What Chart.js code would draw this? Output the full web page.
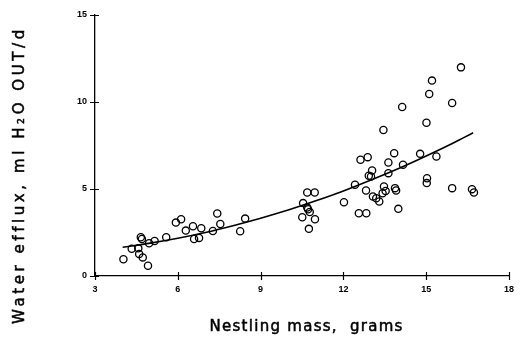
<!DOCTYPE html>
<html>
<head>
<meta charset="utf-8">
<script src="https://cdn.jsdelivr.net/npm/chart.js@4"></script>
<style>
  html, body { margin: 0; padding: 0; background: #fff; }
  #wrap { width: 522px; height: 337px; }
</style>
</head>
<body>
<div id="wrap"><canvas id="grafico"></canvas></div>
<script>
// dados
const nestlingMass = [4.03, 4.33, 4.57, 4.60, 4.73, 4.92, 4.66, 4.70, 4.96, 5.16, 5.58, 5.93, 6.12, 6.29, 6.55, 6.59, 6.77, 6.85, 7.27, 7.43, 7.54, 8.26, 8.44,
  10.69, 10.96, 10.54, 10.72, 10.78, 10.51, 10.97, 10.75, 10.69,
  12.62, 12.88, 13.84, 13.04, 12.92, 13.00, 13.63, 13.63, 14.16, 14.78, 12.42, 12.82, 12.02, 13.07, 13.19, 13.30, 13.47, 13.53, 13.42, 13.87, 13.91, 13.99, 12.56, 12.83,
  15.37, 15.03, 15.02, 15.94, 16.66, 16.73, 16.26, 15.21, 15.11, 14.13, 15.94, 15.01, 13.45];
const waterEfflux = [0.96, 1.57, 1.59, 1.27, 1.07, 0.59, 2.23, 2.13, 1.88, 2.01, 2.23, 3.07, 3.26, 2.61, 2.86, 2.13, 2.19, 2.74, 2.59, 3.59, 2.99, 2.57, 3.30,
  4.80, 4.80, 4.19, 3.84, 3.68, 3.38, 3.26, 2.71, 3.93,
  6.68, 6.83, 7.06, 6.06, 5.76, 5.72, 6.52, 5.91, 6.39, 7.02, 5.24, 4.91, 4.24, 4.57, 4.47, 4.28, 5.14, 4.89, 4.76, 5.05, 4.91, 3.86, 3.61, 3.61,
  6.87, 5.62, 5.34, 5.05, 4.99, 4.80, 11.99, 11.23, 10.46, 9.71, 9.94, 8.81, 8.39];

// curva ajustada
const curveMass = [4, 5, 6, 7, 8, 9, 10, 11, 12, 13, 14, 15, 16, 16.7];
const curveEfflux = [1.65, 1.89, 2.17, 2.50, 2.89, 3.32, 3.79, 4.32, 4.89, 5.52, 6.18, 6.90, 7.66, 8.23];

const xTicks = [3, 6, 9, 12, 15, 18];
const yTicks = [0, 5, 10, 15];

const tituloX = 'Nestling mass,  grams';
const tituloY = 'Water efflux, ml H₂O OUT/d';

const pontos = nestlingMass.map((m, i) => ({ x: m, y: waterEfflux[i] }));
const curva = curveMass.map((m, i) => ({ x: m, y: curveEfflux[i] }));

// escreve texto espaçado para ocupar uma largura
function textoEspacado(c, texto, cx, cy, largura) {
  c.letterSpacing = '0px';
  const w = c.measureText(texto).width;
  const esp = (largura - w) / (texto.length - 1);
  c.letterSpacing = esp.toFixed(2) + 'px';
  c.textAlign = 'left';
  c.textBaseline = 'middle';
  c.lineWidth = 0.5;
  c.strokeStyle = '#000';
  c.fillText(texto, cx - largura / 2, cy);
  c.strokeText(texto, cx - largura / 2, cy);
  c.letterSpacing = '0px';
}

// marcas cruzando os eixos + títulos
const marcasPlugin = {
  id: 'marcas',
  afterDraw(chart) {
    const ctx = chart.ctx;
    const xs = chart.scales.x, ys = chart.scales.y;
    const area = chart.chartArea;
    ctx.save();
    ctx.strokeStyle = '#000';
    ctx.lineWidth = 1.2;
    ctx.beginPath();
    xTicks.forEach(v => {
      const px = Math.round(xs.getPixelForValue(v)) + 0.5;
      ctx.moveTo(px, area.bottom - 4);
      ctx.lineTo(px, area.bottom + 4);
    });
    yTicks.forEach(v => {
      const py = Math.round(ys.getPixelForValue(v)) + 0.5;
      ctx.moveTo(area.left - 5, py);
      ctx.lineTo(area.left + 4, py);
    });
    ctx.stroke();

    ctx.fillStyle = '#000';
    ctx.font = '15px "DejaVu Sans"';
    textoEspacado(ctx, tituloX, 306, 327, 193);

    ctx.translate(20, 177);
    ctx.rotate(-Math.PI / 2);
    textoEspacado(ctx, tituloY, 0, 0, 294);
    ctx.restore();
  }
};

const ctx = document.getElementById('grafico');
new Chart(ctx, {
  type: 'scatter',
  data: {
    datasets: [
      {
        label: 'dados',
        data: pontos,
        pointStyle: 'circle',
        pointRadius: 3.6,
        pointBorderWidth: 1.3,
        pointBorderColor: '#000',
        pointBackgroundColor: 'rgba(255,255,255,0)',
        showLine: false
      },
      {
        label: 'curva',
        data: curva,
        showLine: true,
        borderColor: '#000',
        borderWidth: 1.6,
        pointRadius: 0,
        cubicInterpolationMode: 'monotone',
        fill: false
      }
    ]
  },
  plugins: [marcasPlugin],
  options: {
    responsive: true,
    maintainAspectRatio: false,
    animation: false,
    layout: { padding: { left: 0, right: 6, top: 15, bottom: 0 } },
    plugins: { legend: { display: false }, tooltip: { enabled: false } },
    scales: {
      x: {
        type: 'linear',
        min: 3, max: 18,
        afterBuildTicks: s => { s.ticks = xTicks.map(v => ({ value: v })); },
        afterFit: s => { s.height = 61; },
        grid: { display: true, drawOnChartArea: false, drawTicks: false },
        border: { display: true, color: '#000', width: 1.3 },
        ticks: { padding: 8, color: '#000', font: { family: 'Liberation Sans', size: 9, weight: 'bold' }, maxRotation: 0 }
      },
      y: {
        type: 'linear',
        min: 0, max: 15,
        afterBuildTicks: s => { s.ticks = yTicks.map(v => ({ value: v })); },
        afterFit: s => { s.width = 95; },
        grid: { display: true, drawOnChartArea: false, drawTicks: false },
        border: { display: true, color: '#000', width: 1.3 },
        ticks: { padding: 8, color: '#000', font: { family: 'Liberation Sans', size: 9, weight: 'bold' } }
      }
    }
  }
});
</script>
</body>
</html>
